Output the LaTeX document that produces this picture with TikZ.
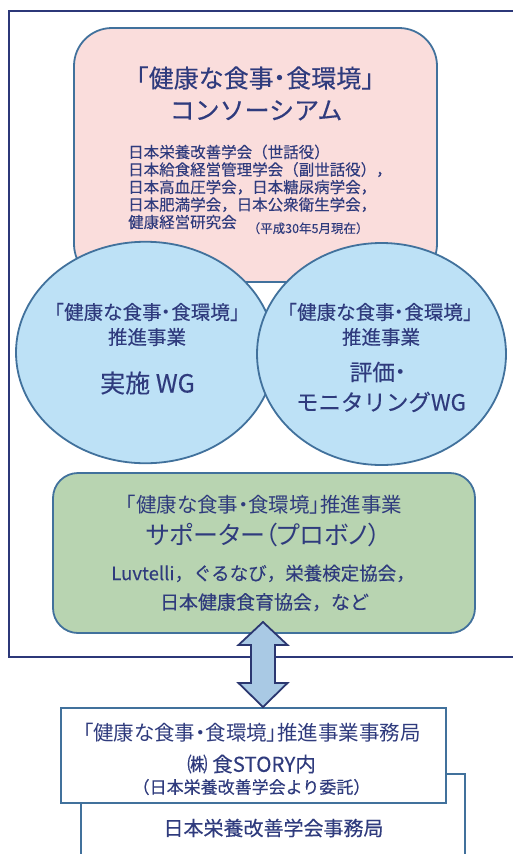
\documentclass[tikz,border=0pt]{standalone}
\usepackage{fontspec}
\setmainfont[FakeBold=0.2,AutoFakeBold=0.2]{Noto Sans CJK JP}
\newfontfamily\jpp[RawFeature=+palt]{Noto Sans CJK JP}
\usetikzlibrary{shapes.geometric}
\definecolor{tc}{HTML}{2F3B7D}
\definecolor{frame}{HTML}{2C3879}
\definecolor{edge}{HTML}{41719C}
\definecolor{pinkfill}{HTML}{FADDDC}
\definecolor{bluefill}{HTML}{BDE1F6}
\definecolor{greenfill}{HTML}{B8D4B1}
\definecolor{arrowfill}{HTML}{A9C9E4}
\definecolor{arrowedge}{HTML}{2B3770}
\tikzset{
  shapebox/.style={draw=edge, line width=1.8pt, inner sep=0},
  txt/.style={text=tc, inner sep=0, anchor=base},
  txtl/.style={text=tc, inner sep=0, anchor=base west},
}
\newcommand{\fs}[1]{\fontsize{#1}{#1}\selectfont}
\newcommand{\pdot}{{\jpp ・}}
\begin{document}
\begin{tikzpicture}[x=1pt,y=-1pt]
\useasboundingbox (0,0) rectangle (513,854);
\clip (0,0) rectangle (513,854);
\fill[white] (0,0) rectangle (513,854);
% outer frame
\node[draw=frame, line width=2.4pt, minimum width=540pt, minimum height=645.5pt, inner sep=0, anchor=north west] (frame) at (7.5,10) {};
% consortium box
\node[shapebox, fill=pinkfill, rounded corners=38pt, minimum width=363pt, minimum height=254pt] (cons) at (255.5,155) {};
% working group ellipses
\node[shapebox, ellipse, fill=bluefill, minimum width=259pt, minimum height=221.5pt] (wg1) at (145.5,352.5) {};
\node[shapebox, ellipse, fill=bluefill, minimum width=249pt, minimum height=222pt] (wg2) at (381.5,354) {};
% supporter box
\node[shapebox, fill=greenfill, rounded corners=25pt, minimum width=422pt, minimum height=160pt] (sup) at (264,553) {};
% secretariat boxes
\node[shapebox, fill=white, minimum width=384pt, minimum height=130pt, anchor=north west] (jsec) at (80,773) {};
\node[shapebox, fill=white, minimum width=385pt, minimum height=95pt] (sec) at (253.5,755.5) {};
% double arrow
\coordinate (atop) at (263,622);
\coordinate (abot) at (263,707);
\draw[draw=arrowedge, fill=arrowfill, line width=1.8pt, line join=miter]
  (atop) -- ++(24.5,23) -- ++(-12.5,0) -- ++(0,38) -- ++(12.5,0) -- (abot)
  -- ++(-24.5,-24) -- ++(12.5,0) -- ++(0,-38) -- ++(-12.5,0) -- cycle;
% texts in consortium
\node[txt] (c1) at (255,87.5) {\fs{25}「健康な食事\pdot 食環境」};
\node[txt] (c2) at (256,119.5) {\fs{25}コンソーシアム};
\node[txtl] (l1) at (128,157.9) {\fs{15.5}日本栄養改善学会（世話役）};
\node[txtl] (l2) at (128,175.4) {\fs{15.5}日本給食経営管理学会（副世話役），};
\node[txtl] (l3) at (128,192.9) {\fs{15.5}日本高血圧学会，日本糖尿病学会，};
\node[txtl] (l4) at (128,210.4) {\fs{15.5}日本肥満学会，日本公衆衛生学会，};
\node[txtl] (l5) at (128,227.9) {\fs{15.5}健康経営研究会};
\node[txtl] (date) at (247.5,233) {\fs{12.5}（平成30年5月現在）};
% left ellipse
\node[txt] (w1a) at (147,319.4) {\fs{19.5}「健康な食事\pdot 食環境」};
\node[txt] (w1b) at (147,344.4) {\fs{19.5}推進事業};
\node[txt] (w1c) at (147.5,392.5) {\fs{25}実施 WG};
% right ellipse
\node[txt] (w2a) at (380,319.4) {\fs{19.5}「健康な食事\pdot 食環境」};
\node[txt] (w2b) at (381,344.4) {\fs{19.5}推進事業};
\node[txt] (w2c) at (378,380.6) {\fs{22.5}評価\pdot};
\node[txt] (w2d) at (381,410.6) {\fs{22.5}モニタリングWG};
% supporter
\node[txt] (s1) at (264,512.8) {\jpp\fs{20.5}「健康な食事・食環境」推進事業};
\node[txt] (s2) at (263.5,544.5) {\jpp\fs{25}サポーター（プロボノ）};
\node[txt] (s3) at (263,580.2) {\fs{18.5}Luvtelli，ぐるなび，栄養検定協会，};
\node[txt] (s4) at (264.5,609.2) {\fs{19}日本健康食育協会，など};
% secretariat
\node[txt] (e1) at (252,740.8) {\jpp\fs{20.5}「健康な食事・食環境」推進事業事務局};
\node[txt] (e2) at (251.5,771.8) {\fs{20.5}㈱ 食STORY内};
\node[txt] (e3) at (251.5,793.5) {\fs{17}（日本栄養改善学会より委託）};
\node[txt] (e4) at (273.5,835.6) {\fs{20}日本栄養改善学会事務局};
\end{tikzpicture}
\end{document}
